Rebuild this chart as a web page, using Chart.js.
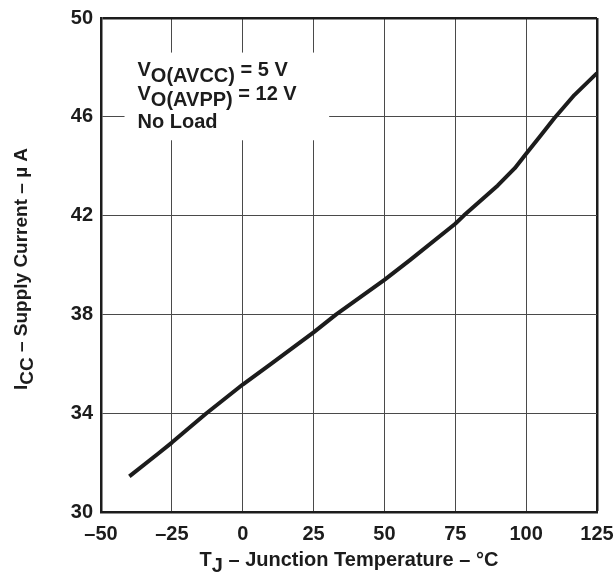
<!DOCTYPE html>
<html>
<head>
  <meta charset="utf-8">
  <title>Supply Current vs Junction Temperature</title>
  <script src="https://cdn.jsdelivr.net/npm/chart.js"></script>
  <style>
    html, body { margin: 0; padding: 0; background: #fff; }
    #wrap { width: 615px; height: 574px; }
  </style>
</head>
<body>
  <div id="wrap"><canvas id="chart"></canvas></div>

  <script>
    // curve: junction temp (°C) vs supply current (uA)
    const tempC = [-40, -30, -25, -20, -13, 0, 10, 25, 33, 50, 59, 75, 78, 90, 96, 100, 105, 110, 117, 125];
    const iccUA = [31.44, 32.35, 32.81, 33.3, 33.98, 35.16, 36.0, 37.27, 38.0, 39.4, 40.2, 41.67, 42.0, 43.22, 43.92, 44.5, 45.22, 45.95, 46.88, 47.77];

    const xTicks = [-50, -25, 0, 25, 50, 75, 100, 125];
    const yTicks = [30, 34, 38, 42, 46, 50];

    // text runs: [text, isSubscript]
    const xTitle = [["T", 0], ["J", 1], [" \u2013 Junction Temperature \u2013 \u00b0C", 0]];
    const yTitle = [["I", 0], ["CC", 1], [" \u2013 Supply Current \u2013 \u00b5 A", 0]];
    const noteLines = [
      [["V", 0], ["O(AVCC)", 1], [" = 5 V", 0]],
      [["V", 0], ["O(AVPP)", 1], [" = 12 V", 0]],
      [["No Load", 0]]
    ];
    // note box corners in data units (x1, y1, x2, y2)
    const noteBox = [-41.7, 48.6, 30.5, 45.05];

    const FAMILY = "'Liberation Sans', Arial, sans-serif";
    const FONT = "bold 20px " + FAMILY;
    const YFONT = "bold 19px " + FAMILY;
    const INK = "#1c1c1c";
    const SUB = 6;

    function runsWidth(ctx, runs) {
      return runs.reduce((w, r) => w + ctx.measureText(r[0]).width, 0);
    }
    function drawRuns(ctx, runs, x, y) {
      for (const [t, sub] of runs) {
        ctx.fillText(t, x, y + (sub ? SUB : 0));
        x += ctx.measureText(t).width;
      }
    }

    const textPlugin = {
      id: "textPlugin",
      beforeDatasetsDraw(chart) {
        const { ctx, scales: { x, y } } = chart;
        const l = x.getPixelForValue(noteBox[0]);
        const t = y.getPixelForValue(noteBox[1]);
        const r = x.getPixelForValue(noteBox[2]);
        const b = y.getPixelForValue(noteBox[3]);
        ctx.save();
        ctx.fillStyle = "#fff";
        ctx.fillRect(l, t, r - l, b - t);
        ctx.fillStyle = INK;
        ctx.font = FONT;
        ctx.textBaseline = "alphabetic";
        ctx.textAlign = "left";
        const base = [23, 47, 75];
        noteLines.forEach((runs, i) => drawRuns(ctx, runs, l + 13, t + base[i]));
        ctx.restore();
      },
      afterDraw(chart) {
        const { ctx, chartArea: a } = chart;
        ctx.save();
        ctx.fillStyle = INK;
        ctx.font = FONT;
        ctx.textBaseline = "alphabetic";
        ctx.textAlign = "left";
        const cx = (a.left + a.right) / 2;
        drawRuns(ctx, xTitle, cx - runsWidth(ctx, xTitle) / 2, 566);
        ctx.font = YFONT;
        const cy = (a.top + a.bottom) / 2 + 4;
        ctx.translate(27, cy);
        ctx.rotate(-Math.PI / 2);
        drawRuns(ctx, yTitle, -runsWidth(ctx, yTitle) / 2, 0);
        ctx.restore();
      }
    };

    const dash = (v) => String(v).replace("-", "\u2013");
    const tickFont = { family: FAMILY, size: 20, weight: "bold" };

    new Chart(document.getElementById("chart"), {
      type: "line",
      data: {
        datasets: [{
          data: tempC.map((t, i) => ({ x: t, y: iccUA[i] })),
          borderColor: INK,
          borderWidth: 4,
          borderJoinStyle: "round",
          pointRadius: 0,
          tension: 0,
          fill: false
        }]
      },
      options: {
        responsive: true,
        maintainAspectRatio: false,
        animation: false,
        devicePixelRatio: 1,
        layout: { padding: { top: 18, right: 18, left: 0, bottom: 0 } },
        plugins: { legend: { display: false }, tooltip: { enabled: false } },
        scales: {
          x: {
            type: "linear",
            min: xTicks[0],
            max: xTicks[xTicks.length - 1],
            afterBuildTicks: (s) => { s.ticks = xTicks.map((v) => ({ value: v })); },
            afterFit: (s) => { s.height = 62; s.paddingLeft = 0; s.paddingRight = 0; },
            ticks: { callback: dash, color: INK, font: tickFont, padding: 10, maxRotation: 0 },
            grid: {
              drawTicks: false,
              color: (c) => (c.tick && c.tick.value === xTicks[xTicks.length - 1] ? INK : "#4a4a4a"),
              lineWidth: (c) => (c.tick && c.tick.value === xTicks[xTicks.length - 1] ? 2.5 : 1)
            },
            border: { display: true, color: INK, width: 2.5 }
          },
          y: {
            min: yTicks[0],
            max: yTicks[yTicks.length - 1],
            afterBuildTicks: (s) => { s.ticks = yTicks.map((v) => ({ value: v })); },
            afterFit: (s) => { s.width = 101; s.paddingTop = 0; s.paddingBottom = 0; },
            ticks: { color: INK, font: tickFont, padding: 8 },
            grid: {
              drawTicks: false,
              color: (c) => (c.tick && c.tick.value === yTicks[yTicks.length - 1] ? INK : "#4a4a4a"),
              lineWidth: (c) => (c.tick && c.tick.value === yTicks[yTicks.length - 1] ? 2.5 : 1)
            },
            border: { display: true, color: INK, width: 2.5 }
          }
        }
      },
      plugins: [textPlugin]
    });
  </script>
</body>
</html>
